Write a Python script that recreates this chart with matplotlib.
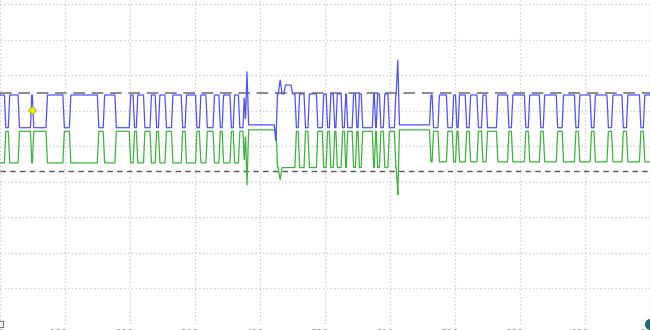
import numpy as np
import matplotlib
matplotlib.use('Agg')
import matplotlib.pyplot as plt

# ---- data: time in µs (1 division = 100 µs), levels in vertical divisions ----
frame1_rec = [(8, 14), (29, 48), (51, 72), (98, 108), (151, 160), (178, 200),
              (206, 211), (222, 232), (240, 245), (255, 265), (280, 286),
              (302, 308), (318, 329), (338, 343), (355, 360), (368, 375)]
frame2_rec = [(455, 460), (469, 475), (488, 497), (503, 508), (514, 518),
              (526, 531), (534, 543), (548, 552), (557, 574), (577, 580),
              (585, 591), (598, 608)]
frame3_rec = [(666, 675), (688, 697), (702, 706), (717, 723), (735, 742),
              (749, 765), (782, 788), (808, 814), (831, 837), (857, 866),
              (885, 891), (909, 915), (935, 942), (958, 965), (985, 991)]
frame_spans = [(0, 377), (426, 612), (662, 1001)]
idle_spans = [(377, 426), (612, 662)]
blue_dom = [6.44, 6.47, 6.44]
green_dom = [4.53, 4.40, 4.56]
blue_rec, green_rec = 5.52, 5.42
blue_idle, green_idle = 5.60, 5.46
blue_boost = (438, 449, 6.72)
blue_dip = (424, 5.17)
# spikes: (time, blue peak, green peak, half width)
spikes = [(380, 7.09, 3.91, 2.5), (431, 6.86, 4.05, 3.0), (612, 7.42, 3.63, 2.5)]
upper_ref, lower_ref = 6.50, 4.30
trigger = (49, 6.02)
x_ticks = [0, 100, 200, 300, 400, 500, 600, 700, 800, 900, 1000]
x_labels = ['0', '100µs', '200µs', '300µs', '400µs', '500µs', '600µs',
            '700µs', '800µs', '900µs', '1ms']

t = np.arange(0, 1000.01, 0.25)
blue = np.zeros_like(t)
green = np.zeros_like(t)
for (a, b), bd, gd in zip(frame_spans, blue_dom, green_dom):
    m = (t >= a) & (t < b)
    blue[m] = bd
    green[m] = gd
for a, b in idle_spans:
    m = (t >= a) & (t < b)
    blue[m] = blue_idle
    green[m] = green_idle
for a, b in frame1_rec + frame2_rec + frame3_rec:
    m = (t >= a) & (t < b)
    blue[m] = blue_rec
    green[m] = green_rec
m = (t >= blue_boost[0]) & (t < blue_boost[1])
blue[m] = blue_boost[2]


def smooth(y, n=9):
    yp = np.pad(y, n, mode='edge')
    return np.convolve(yp, np.ones(n) / n, mode='same')[n:-n]


blue = smooth(blue)
green = smooth(green)
tri = np.clip(1 - np.abs(t - blue_dip[0]) / 2.0, 0, 1)
blue = blue + (blue_dip[1] - blue) * tri
for t0, bp, gp, w in spikes:
    tri = np.clip(1 - np.abs(t - t0) / w, 0, 1)
    blue = np.maximum(blue, blue + (bp - blue) * tri)
    green = np.minimum(green, green + (gp - green) * tri)

fig = plt.figure(figsize=(6.5, 3.3), dpi=100)
ax = fig.add_axes([0, 6 / 330, 1, 324 / 330])
ax.set_xlim(0, 1000)
ax.set_ylim(0, 324 / 35.56)
for s in ax.spines.values():
    s.set_visible(False)
ax.set_xticks(x_ticks)
ax.set_xticklabels(x_labels, fontsize=7, color='#999999')
ax.set_yticks(range(10))
ax.set_yticklabels([])
ax.tick_params(length=0, pad=3.5)
ax.grid(True, color='#c8c8c8', linestyle=(0, (1, 2)), linewidth=0.9)

ax.axhline(upper_ref, color='#777777', lw=1.2, dashes=(7, 4), zorder=2)
ax.axhline(lower_ref, color='#555555', lw=1.0, dashes=(4, 3), zorder=2)

ax.plot(t, green, color='#3cb43c', lw=0.9, zorder=3)
ax.plot(t, blue, color='#5050ff', lw=0.9, zorder=4)

ax.plot(*trigger, 'D', ms=4, mfc='#f2f200', mec='#a8a800', mew=0.6, zorder=5)
ax.plot(0, 0, 's', ms=4, mfc='white', mec='#777777', mew=0.8, clip_on=False, zorder=5)
ax.plot(1000, 0, 'o', ms=7, color='#1d6b6b', clip_on=False, zorder=5)

fig.savefig('out.png', dpi=100)
